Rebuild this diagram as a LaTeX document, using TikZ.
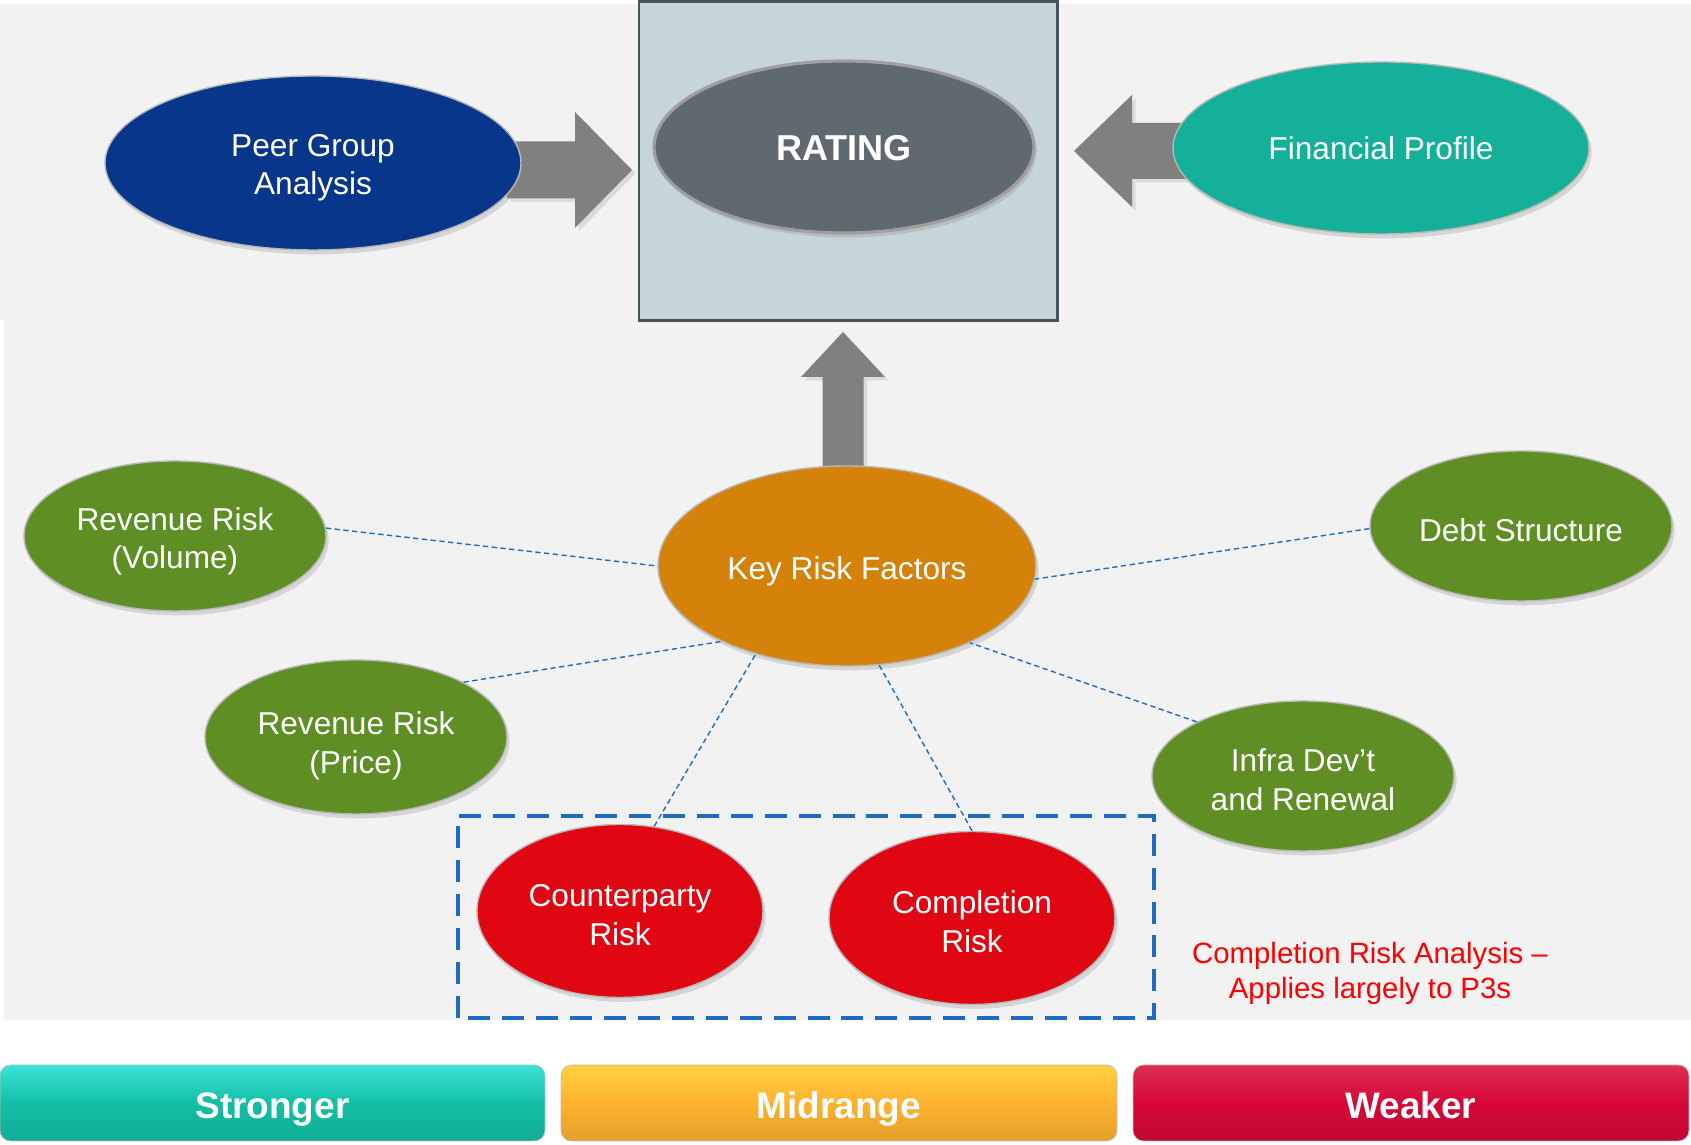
\documentclass[tikz,border=0pt]{standalone}
\usepackage{fontspec}
\setmainfont{Liberation Sans}
\usetikzlibrary{shapes.geometric,shadows}

\definecolor{bggray}{HTML}{F2F2F2}
\definecolor{boxfill}{HTML}{C6D5DA}
\definecolor{boxline}{HTML}{47525A}
\definecolor{ratinggray}{HTML}{5F6A70}
\definecolor{peerblue}{HTML}{08368B}
\definecolor{fintgreen}{HTML}{14B09A}
\definecolor{keyorange}{HTML}{D4820A}
\definecolor{riskgreen}{HTML}{5E8E24}
\definecolor{riskred}{HTML}{E00612}
\definecolor{linkblue}{HTML}{1F6BC4}
\definecolor{blockgray}{HTML}{808080}
\definecolor{strongteal}{HTML}{12BFA5}
\definecolor{midorange}{HTML}{FDB22E}
\definecolor{weakred}{HTML}{D60838}

\begin{document}
\begin{tikzpicture}[
  oval/.style={ellipse, inner sep=0pt, align=center, text=white,
    draw=gray!55, line width=0.8pt, text height=18pt,
    font=\fontsize{18}{22}\selectfont,
    drop shadow={opacity=0.25, shadow xshift=1.5pt, shadow yshift=-2.5pt}},
  twoline/.style={text height=39pt},
  factor/.style={oval, fill=riskgreen, minimum width=6.04cm, minimum height=3cm},
  redrisk/.style={oval, twoline, fill=riskred, minimum width=5.72cm, minimum height=3.46cm},
  link/.style={draw=linkblue, line width=0.8pt, dash pattern=on 3pt off 2pt},
  blockarrow/.style={fill=blockgray,
    drop shadow={opacity=0.2, shadow xshift=2pt, shadow yshift=-2pt}},
  band/.style={rounded corners=6pt, minimum height=1.52cm, inner sep=0pt,
    text height=18pt, text depth=0pt,
    text=white, font=\fontsize{21}{25}\bfseries\selectfont,
    draw=black!25, line width=0.4pt}
]
\useasboundingbox (0,0) rectangle (33.82,22.9);

% backdrop
\fill[bggray] (0,2.5) rectangle (33.82,22.82);
\fill[white] (0,2.5) rectangle (0.08,16.5);

% rating frame
\draw[boxline, fill=boxfill, line width=1.7pt] (12.78,16.48) rectangle (21.14,22.86);

% block arrows into the rating
\path[blockarrow] (10.14,19.5-0.57) -- (11.5,19.5-0.57) -- (11.5,19.5-1.16)
  -- (12.64,19.5) -- (11.5,19.5+1.16) -- (11.5,19.5+0.57) -- (10.14,19.5+0.57) -- cycle;
\path[blockarrow] (24.0,19.88-0.56) -- (22.64,19.88-0.56) -- (22.64,19.88-1.12)
  -- (21.48,19.88) -- (22.64,19.88+1.12) -- (22.64,19.88+0.56) -- (24.0,19.88+0.56) -- cycle;
\path[blockarrow] (16.86-0.41,13.0) -- (16.86-0.41,15.36) -- (16.86-0.84,15.36)
  -- (16.86,16.26) -- (16.86+0.84,15.36) -- (16.86+0.41,15.36) -- (16.86+0.41,13.0) -- cycle;

% top row
\node[oval, fill=ratinggray, draw=gray!75, line width=1.8pt,
  minimum width=7.6cm, minimum height=3.44cm, text height=16pt,
  font=\fontsize{20.5}{24}\bfseries\selectfont] (rating) at (16.88,19.96) {RATING};
\node[oval, fill=peerblue, minimum width=8.32cm, minimum height=3.48cm, text height=40pt] (peer) at (6.26,19.64) {Peer Group\\Analysis};
\node[oval, fill=fintgreen, minimum width=8.32cm, minimum height=3.44cm, text height=13pt] (fin) at (27.62,19.94) {Financial Profile};

% key risk factors and the factors around it
\node[oval, fill=keyorange, minimum width=7.56cm, minimum height=4cm, text height=19.5pt] (key) at (16.94,11.58) {Key Risk Factors};
\node[factor, text height=41pt] (vol) at (3.5,12.18) {Revenue Risk\\(Volume)};
\node[factor] (debt) at (30.42,12.38) {Debt Structure};
\node[factor, minimum height=3.08cm, text height=45pt] (price) at (7.12,8.16) {Revenue Risk\\(Price)};
\node[factor, twoline] (infra) at (26.06,7.38) {Infra Dev't\\and Renewal};
\node[redrisk] (counter) at (12.4,4.68) {Counterparty\\Risk};
\node[redrisk] (compl) at (19.44,4.54) {Completion\\Risk};

\draw[link] (vol.3) -- (key.180);
\draw[link] (debt.181) -- (key.-4);
\draw[link] (price.27) -- (key.211);
\draw[link] (infra.153) -- (key.-32);
\draw[link] (counter.68) -- (key.224);
\draw[link] (compl.90) -- (key.288);

% completion group
\draw[linkblue, line width=2.3pt, dash pattern=on 12.5pt off 6.8pt] (9.16,2.54) rectangle (23.08,6.58);
\node[text=red, align=center, font=\fontsize{16.7}{19.9}\selectfont] (note) at (27.4,3.43)
  {Completion Risk Analysis --\\Applies largely to P3s};

% scale bands
\node[band, top color=strongteal!55!cyan!80!white, bottom color=strongteal!90!black, middle color=strongteal,
  minimum width=10.9cm] (strong) at (5.45,0.84) {Stronger};
\node[band, top color=midorange!70!yellow!85!white, bottom color=midorange!90!black, middle color=midorange,
  minimum width=11.12cm] (mid) at (16.78,0.84) {Midrange};
\node[band, top color=weakred!80!pink, bottom color=weakred!90!black, middle color=weakred,
  minimum width=11.12cm] (weak) at (28.22,0.84) {Weaker};
\end{tikzpicture}
\end{document}
